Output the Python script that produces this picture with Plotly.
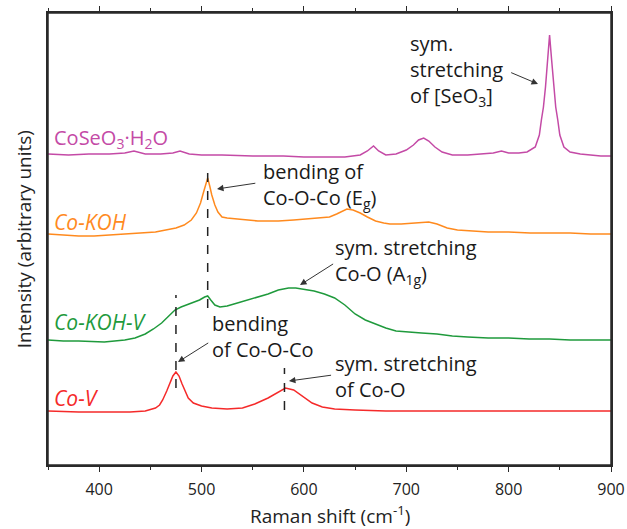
import plotly.graph_objects as go

# ---------------- data ----------------
# Raman shift (cm-1) and intensity (arbitrary units, stacked offsets included)
seo3_x = [350, 370, 390, 410, 425, 434, 445, 460, 472, 479, 488, 500, 520, 550, 580, 600, 620, 640,
          655, 662, 668, 673, 680, 690, 700, 707, 712, 717, 722, 728, 735, 745, 760, 775, 785, 793,
          800, 810, 818, 826, 830, 832, 834, 836, 838, 840, 842, 844, 846, 848, 850, 854, 860, 870,
          880, 890, 900]
seo3_y = [311, 310, 311, 311, 312, 314, 311, 311, 312, 314, 311, 310, 310, 309, 309, 308, 308, 308,
          310, 314, 319, 314, 310, 311, 315, 320, 325, 327, 324, 318, 313, 310, 310, 311, 312, 314,
          312, 312, 313, 318, 330, 345, 358, 378, 405, 430, 405, 378, 358, 345, 330, 318, 313, 311,
          310, 309, 309]

koh_x = [350, 365, 380, 395, 410, 425, 440, 455, 465, 475, 483, 490, 495, 499, 502, 504, 506, 508,
         510, 513, 516, 520, 525, 535, 545, 555, 565, 575, 590, 605, 615, 625, 632, 638, 642, 648,
         655, 662, 670, 678, 684, 695, 705, 715, 722, 730, 740, 750, 765, 780, 800, 821, 840, 860,
         880, 900]
koh_y = [231, 230, 229, 229, 230, 231, 232, 233, 235, 237, 240, 245, 252, 262, 273, 281, 287, 279,
         270, 260, 253, 248, 247, 246, 245, 244, 244, 244, 245, 246, 247, 248, 251, 254, 256, 255,
         252, 248, 244, 242, 241, 241, 242, 243, 243, 241, 237, 235, 234, 233, 233, 232, 232, 232,
         231, 231]

kohv_x = [350, 365, 380, 395, 405, 415, 425, 435, 445, 453, 461, 467, 474, 480, 485, 492, 498, 503,
          506, 509, 513, 518, 525, 535, 545, 555, 565, 575, 585, 592, 600, 610, 620, 630, 640, 650,
          660, 670, 680, 690, 700, 715, 730, 745, 760, 780, 800, 820, 840, 860, 880, 900]
kohv_y = [125, 124, 124, 123, 123, 124, 125, 127, 131, 136, 142, 148, 155, 158, 160, 162, 165, 168,
          169, 165, 160, 158, 159, 162, 165, 168, 171, 175, 177, 177, 176, 174, 171, 167, 160, 151,
          145, 141, 137, 134, 133, 132, 131, 129, 128, 127, 127, 126, 126, 125, 125, 125]

cov_x = [350, 380, 410, 430, 445, 455, 459, 462, 466, 469, 472, 475, 478, 481, 484, 487, 492, 500,
         510, 525, 540, 552, 565, 575, 582, 590, 598, 608, 618, 630, 650, 680, 720, 760, 800, 850, 900]
cov_y = [54, 53, 53, 53, 54, 57, 60, 65, 74, 82, 89, 93, 89, 81, 73, 67, 62, 59,
         57, 56, 57, 61, 67, 73, 77, 75, 69, 62, 58, 56, 55, 54, 54, 54, 54, 54, 54]

series_names = ["CoSeO₃·H₂O", "Co-KOH", "Co-KOH-V", "Co-V"]
series_colors = ["#c44aa6", "#ff8a1e", "#1f9a3c", "#f52a2a"]

# peak markers (dashed lines): position, y from, y to
peak_pos = [506, 475, 581]
peak_lo = [157, 77, 55]
peak_hi = [298, 170, 97]

x_ticks = [400, 500, 600, 700, 800, 900]

# ---------------- figure ----------------
fig = go.Figure()
for xs, ys, name, col in [(seo3_x, seo3_y, series_names[0], series_colors[0]),
                          (koh_x, koh_y, series_names[1], series_colors[1]),
                          (kohv_x, kohv_y, series_names[2], series_colors[2]),
                          (cov_x, cov_y, series_names[3], series_colors[3])]:
    fig.add_trace(go.Scatter(x=xs, y=ys, mode="lines", name=name,
                             line=dict(color=col, width=1.5), showlegend=False))

for p, lo, hi in zip(peak_pos, peak_lo, peak_hi):
    fig.add_shape(type="line", x0=p, x1=p, y0=lo, y1=hi, xref="x", yref="y",
                  line=dict(color="#222", width=1.5, dash="dash"))

# plot frame (backup for the mirrored axis lines)
fig.add_shape(type="rect", x0=0, x1=1, y0=0, y1=1, xref="paper", yref="paper",
              line=dict(color="#2a2a2a", width=1.5), fillcolor="rgba(0,0,0,0)", layer="above")

font_main = "Open Sans, Lato, sans-serif"

# series labels
lab_y = [327, 243, 143, 67]
lab_size = [20, 21, 21, 21]
lab_txt = ["CoSeO<sub>3</sub>·H<sub>2</sub>O", "<i>Co-KOH</i>", "<i>Co-KOH-V</i>", "<i>Co-V</i>"]
for t, yv, col, sz in zip(lab_txt, lab_y, series_colors, lab_size):
    fig.add_annotation(x=354, y=yv, xref="x", yref="y", text=t, showarrow=False,
                       xanchor="left", yanchor="middle",
                       font=dict(family=font_main, size=sz, color=col))

# text annotations
notes = [
    (702, 395, "sym.<br>stretching<br>of [SeO<sub>3</sub>]"),
    (558, 280, "bending of<br>Co-O-Co (E<sub>g</sub>)"),
    (628, 204, "sym. stretching<br>Co-O (A<sub>1g</sub>)"),
    (508, 129, "bending<br>of Co-O-Co"),
    (628, 89, "sym. stretching<br>of Co-O"),
]
for xv, yv, t in notes:
    fig.add_annotation(x=xv, y=yv, xref="x", yref="y", text=t, showarrow=False,
                       xanchor="left", yanchor="middle", align="left",
                       font=dict(family=font_main, size=20, color="#1a1a1a"))

# arrows: head (x, y), tail (ax, ay)
arrows = [
    (828.7, 381, 801, 393),
    (515.1, 276, 554, 282),
    (596.2, 180, 630, 202),
    (477.0, 103, 508, 123),
    (585.4, 84, 628, 90),
]
for hx, hy, tx, ty in arrows:
    fig.add_annotation(x=hx, y=hy, ax=tx, ay=ty, xref="x", yref="y", axref="x", ayref="y",
                       text="", showarrow=True, arrowhead=2, arrowsize=1.3, arrowwidth=1,
                       arrowcolor="#333")

# axis titles
fig.add_annotation(x=0.5, y=-0.11, xref="paper", yref="paper", yanchor="middle",
                   text="Raman shift (cm<sup>-1</sup>)", showarrow=False,
                   font=dict(family=font_main, size=19, color="#222"))
fig.add_annotation(x=-0.042, y=0.5, xref="paper", yref="paper", xanchor="center",
                   text="Intensity (arbitrary units)", showarrow=False, textangle=-90,
                   font=dict(family=font_main, size=19, color="#222"))

fig.update_layout(
    width=627, height=529,
    margin=dict(l=48, r=16, t=13, b=64),
    paper_bgcolor="white", plot_bgcolor="white",
    font=dict(family=font_main, color="#222"),
    xaxis=dict(range=[350, 900], showline=True, mirror="allticks", linecolor="#2a2a2a",
               linewidth=1.5, ticks="outside", ticklen=5, tickcolor="#2a2a2a", tickwidth=1.3,
               tickvals=x_ticks, tickfont=dict(size=16, color="#222"), showgrid=False,
               zeroline=False, automargin=False, ticklabelstandoff=4,
               minor=dict(dtick=50, tick0=350, ticks="outside", ticklen=3, tickcolor="#2a2a2a")),
    yaxis=dict(range=[0, 452], showline=True, mirror=True, linecolor="#2a2a2a", linewidth=1.5,
               ticks="", showticklabels=False, showgrid=False, zeroline=False, automargin=False),
)

fig.write_html("out.html", config={"displayModeBar": False},
               post_script="document.body.style.margin='0';document.body.style.overflow='hidden';")
